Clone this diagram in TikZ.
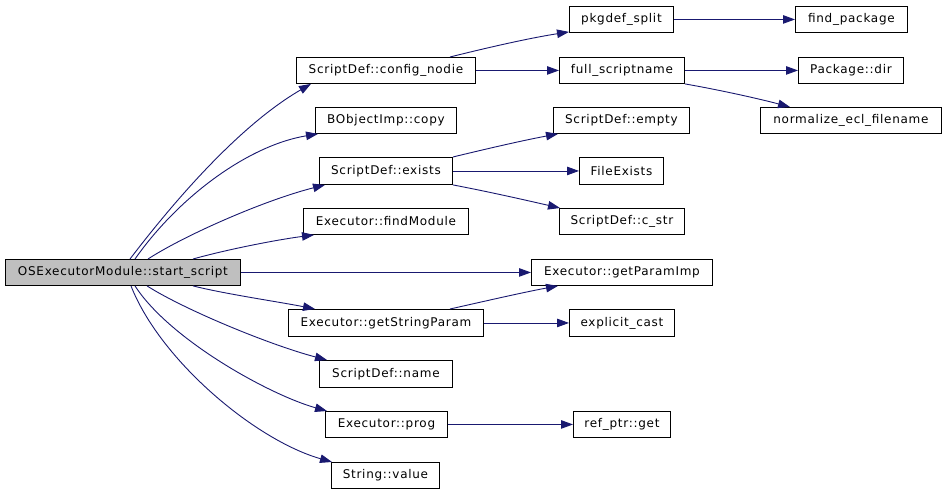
\documentclass[tikz,border=0pt]{standalone}
\usepackage{fontspec}
\setmainfont[LetterSpace=6]{DejaVu Sans}
\usetikzlibrary{arrows.meta,calc}
\definecolor{edgec}{HTML}{191970}
\definecolor{rootfill}{HTML}{BFBFBF}
\tikzset{
  fn/.style={draw=black,line width=0.9pt,fill=white,rectangle,anchor=north west,inner sep=0pt,
    font=\fontsize{12}{14}\selectfont,text=black},
  e/.style={draw=edgec,line width=0.9pt,-{Triangle[length=12pt,width=8.5pt]}},
}
\begin{document}
\begin{tikzpicture}[x=1pt,y=-1pt]
\fill[white] (0,0) rectangle (947,493);
\useasboundingbox (0,0) rectangle (947,493);
\node[fn,fill=rootfill,minimum width=235pt,minimum height=26pt] (s) at (5,259) {OSExecutorModule::start\_script};
\node[fn,minimum width=179pt,minimum height=26pt] (cn) at (296,57) {ScriptDef::config\_nodie};
\node[fn,minimum width=141pt,minimum height=26pt] (cp) at (315,107) {BObjectImp::copy};
\node[fn,minimum width=104pt,minimum height=26pt] (pk) at (569,6) {pkgdef\_split};
\node[fn,minimum width=112pt,minimum height=26pt] (fp) at (795,6) {find\_package};
\node[fn,minimum width=125pt,minimum height=26pt] (fs) at (559,57) {full\_scriptname};
\node[fn,minimum width=105pt,minimum height=26pt] (pd) at (798,57) {Package::dir};
\node[fn,minimum width=181pt,minimum height=26pt] (ne) at (760,107) {normalize\_ecl\_filename};
\node[fn,minimum width=136pt,minimum height=26pt] (em) at (553,107) {ScriptDef::empty};
\node[fn,minimum width=133pt,minimum height=27pt] (ex) at (319,157) {ScriptDef::exists};
\node[fn,minimum width=84pt,minimum height=27pt] (fe) at (579,157) {FileExists};
\node[fn,minimum width=125pt,minimum height=26pt] (cs) at (559,208) {ScriptDef::c\_str};
\node[fn,minimum width=165pt,minimum height=26pt] (fm) at (303,208) {Executor::findModule};
\node[fn,minimum width=181pt,minimum height=26pt] (gp) at (531,259) {Executor::getParamImp};
\node[fn,minimum width=195pt,minimum height=27pt] (gs) at (288,309) {Executor::getStringParam};
\node[fn,minimum width=105pt,minimum height=27pt] (ec) at (569,309) {explicit\_cast};
\node[fn,minimum width=133pt,minimum height=27pt] (nm) at (319,360) {ScriptDef::name};
\node[fn,minimum width=122pt,minimum height=26pt] (pr) at (325,411) {Executor::prog};
\node[fn,minimum width=97pt,minimum height=26pt] (rg) at (573,411) {ref\_ptr::get};
\node[fn,minimum width=108pt,minimum height=26pt] (sv) at (331,462) {String::value};
% edges from root
\draw[e] ($(s.north west)+(125,0)$) .. controls (175,200) and (240,125) .. ($(cn.south west)+(15,0)$);
\draw[e] ($(s.north west)+(130,0)$) .. controls (180,195) and (250,145) .. ($(cp.south west)+(3,0)$);
\draw[e] ($(s.north west)+(143,0)$) .. controls (185,235) and (265,200) .. ($(ex.south west)+(6,0)$);
\draw[e] ($(s.north west)+(188,0)$) .. controls (225,250) and (275,240) .. ($(fm.south west)+(11,0)$);
\draw[e] (s.east) -- (gp.west);
\draw[e] ($(s.south west)+(188,0)$) .. controls (225,294) and (280,302) .. ($(gs.north west)+(27,0)$);
\draw[e] ($(s.south west)+(142,0)$) .. controls (185,310) and (270,345) .. ($(nm.north west)+(8,0)$);
\draw[e] ($(s.south west)+(130,0)$) .. controls (170,340) and (270,395) .. ($(pr.north west)+(2,0)$);
\draw[e] ($(s.south west)+(126,0)$) .. controls (160,360) and (255,440) .. ($(sv.north west)+(1,0)$);
% other edges
\draw[e] ($(cn.north west)+(154,0)$) .. controls (490,47) and (530,38) .. ($(pk.south west)+(0,-1)$);
\draw[e] (cn.east) -- (fs.west);
\draw[e] (pk.east) -- (fp.west);
\draw[e] (fs.east) -- (pd.west);
\draw[e] (fs.south east) .. controls (720,90) and (760,99) .. ($(ne.north west)+(30,0)$);
\draw[e] (ex.north east) .. controls (490,148) and (525,140) .. ($(em.south west)+(5,0)$);
\draw[e] (ex.east) -- (fe.west);
\draw[e] (ex.south east) .. controls (490,192) and (525,200) .. ($(cs.north west)+(1,0)$);
\draw[e] ($(gs.north west)+(162,0)$) .. controls (490,300) and (525,292) .. ($(gp.south west)+(27,0)$);
\draw[e] (gs.east) -- (ec.west);
\draw[e] (pr.east) -- (rg.west);
\end{tikzpicture}
\end{document}
